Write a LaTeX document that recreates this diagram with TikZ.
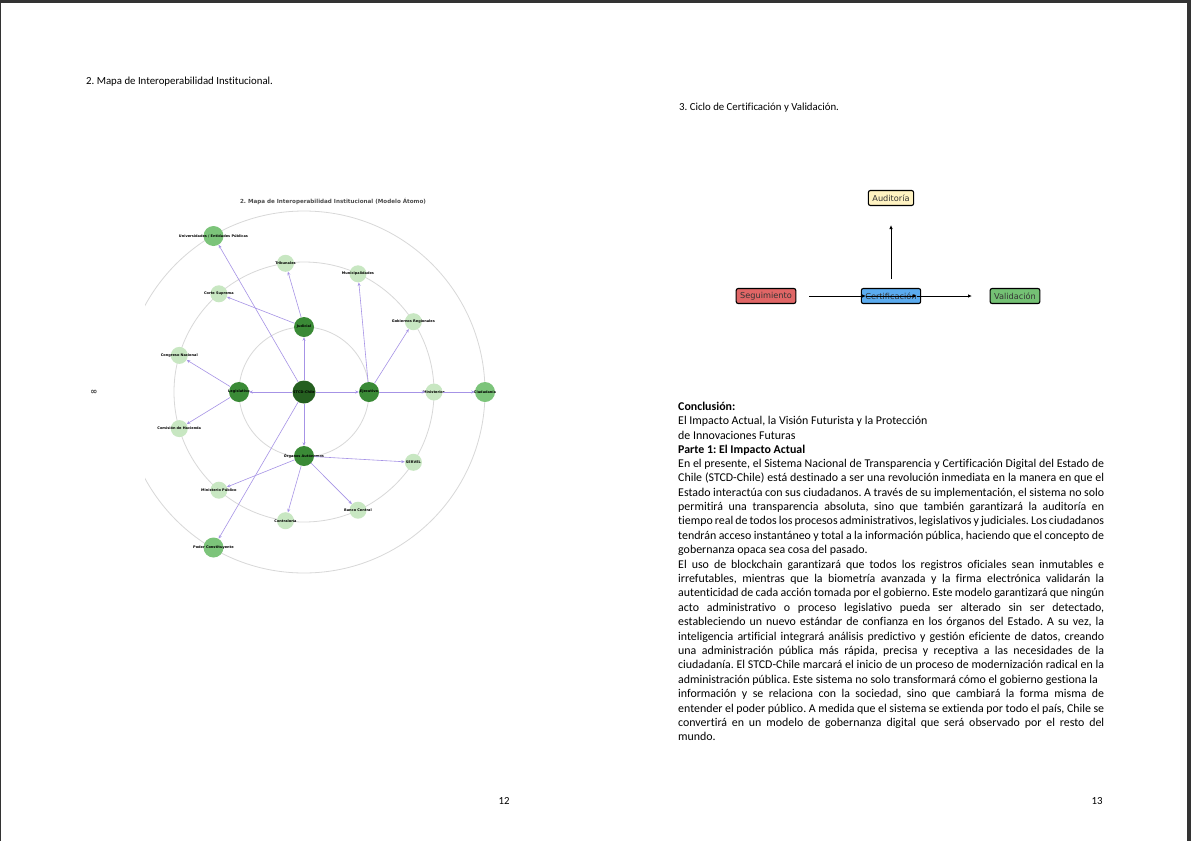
\documentclass[tikz,border=0pt]{standalone}
\usepackage{fontspec}
\setmainfont{Carlito}[Ligatures={CommonOff}]
\newfontfamily\dvs{DejaVu Sans}
\usetikzlibrary{arrows.meta,calc}
\definecolor{framec}{HTML}{333333}
\definecolor{ringc}{HTML}{D8D8D8}
\definecolor{edgec}{HTML}{A693E6}
\definecolor{gdark}{HTML}{255F20}
\definecolor{gmid}{HTML}{3A8A36}
\definecolor{gout}{HTML}{7CC47A}
\definecolor{glight}{HTML}{C8E7C2}
\definecolor{cseg}{HTML}{E06666}
\definecolor{ccert}{HTML}{5AABEF}
\definecolor{cval}{HTML}{74C174}
\definecolor{caud}{HTML}{FFF3C2}
\newcommand{\jline}[1]{\makebox[426pt][s]{#1}}
\frenchspacing
\tikzset{
  hub/.style={circle, inner sep=0pt, minimum size=23pt, fill=gdark},
  lvone/.style={circle, inner sep=0pt, minimum size=20pt, fill=gmid},
  lvtwo/.style={circle, inner sep=0pt, minimum size=17pt, fill=glight},
  lvout/.style={circle, inner sep=0pt, minimum size=20pt, fill=gout},
  lbl/.style={font=\dvs\bfseries\fontsize{3.5}{3.9}\selectfont, text=black, inner sep=0pt},
  link/.style={draw=edgec, line width=0.6pt, -{Stealth[length=3.5pt,width=3pt]}},
  ring/.style={draw=ringc, line width=0.8pt},
  cbox/.style={draw=black, line width=1.1pt, rounded corners=2pt, font=\dvs\fontsize{8.2}{9.5}\selectfont, text=black!80, inner xsep=4pt, inner ysep=0pt, minimum height=15pt},
  flow/.style={draw=black, line width=0.9pt, -{Latex[length=4pt,width=3.5pt]}},
  txt/.style={anchor=base west, inner sep=0pt, font=\fontsize{11.9}{14}\selectfont},
  btxt/.style={txt, font=\bfseries\fontsize{11.9}{14}\selectfont},
  small/.style={anchor=base west, inner sep=0pt, font=\fontsize{10.8}{12}\selectfont},
}
\begin{document}
\begin{tikzpicture}[x=1pt,y=-1pt]
\useasboundingbox (0,0) rectangle (1191,841);
\fill[framec] (0,0) rectangle (1191,841);
\fill[white] (1,3) rectangle (1187,841);

% page titles
\node[small] (t2) at (86,84) {2. Mapa de Interoperabilidad Institucional.};
\node[small] (t3) at (679,110) {3. Ciclo de Certificación y Validación.};
\node[small, anchor=base] (p12) at (504,804.5) {12};
\node[small, anchor=base] (p13) at (1097,804.5) {13};

% atom diagram
\node[font=\dvs\bfseries\fontsize{5.6}{6.5}\selectfont, text=black!70] (atitle) at (333,201) {2. Mapa de Interoperabilidad Institucional (Modelo Átomo)};
\node[font=\dvs\bfseries\fontsize{8.5}{9}\selectfont, text=black!75, inner sep=0pt] (inf) at (94,392) {∞};
\begin{scope}
  \clip (145,150) rectangle (600,650);
  \draw[ring] (304,392) circle[radius=65pt];
  \draw[ring] (304,392) circle[radius=130pt];
  \draw[ring] (304,392) circle[radius=181pt];
\end{scope}

\node[hub, label={[lbl]center:STCD-Chile}] (stcd) at (304,392) {};
\node[lvone, label={[lbl]center:Judicial}] (jud) at (304,327) {};
\node[lvone, label={[lbl]center:Legislativo}] (leg) at (239,392) {};
\node[lvone, label={[lbl]center:Ejecutivo}] (eje) at (369,392) {};
\node[lvone, label={[lbl]center:Órganos Autónomos}] (org) at (304,456) {};
\node[lvtwo, label={[lbl]center:Ministerios}] (min) at (434,392) {};
\node[lvtwo, label={[lbl]center:Gobiernos Regionales}] (gob) at (413.4,321.7) {};
\node[lvtwo, label={[lbl]center:Municipalidades}] (mun) at (358,273.8) {};
\node[lvtwo, label={[lbl]center:Tribunales}] (tri) at (285.5,263.3) {};
\node[lvtwo, label={[lbl]center:Corte Suprema}] (cor) at (218.9,293.8) {};
\node[lvtwo, label={[lbl]center:Congreso Nacional}] (con) at (179.3,355.4) {};
\node[lvtwo, label={[lbl]center:Comisión de Hacienda}] (com) at (179.3,428.6) {};
\node[lvtwo, label={[lbl]center:Ministerio Público}] (mpu) at (218.9,490.2) {};
\node[lvtwo, label={[lbl]center:Contraloría}] (ctr) at (285.5,520.7) {};
\node[lvtwo, label={[lbl]center:Banco Central}] (ban) at (358,510.2) {};
\node[lvtwo, label={[lbl]center:SERVEL}] (ser) at (413.4,462.3) {};
\node[lvout, label={[lbl]center:Ciudadanía}] (ciu) at (485,392) {};
\node[lvout, label={[lbl]center:Universidades / Entidades Públicas}] (uni) at (213.5,236) {};
\node[lvout, label={[lbl]center:Poder Constituyente}] (pod) at (213.5,547.5) {};

\draw[link] (stcd) -- (jud);
\draw[link] (stcd) -- (leg);
\draw[link] (stcd) -- (eje);
\draw[link] (stcd) -- (org);
\draw[link] (stcd) -- (uni);
\draw[link] (stcd) -- (pod);
\draw[link] (jud) -- (tri);
\draw[link] (jud) -- (cor);
\draw[link] (eje) -- (mun);
\draw[link] (eje) -- (gob);
\draw[link] (eje) -- (min);
\draw[link] (min) -- (ciu);
\draw[link] (leg) -- (con);
\draw[link] (leg) -- (com);
\draw[link] (org) -- (ser);
\draw[link] (org) -- (mpu);
\draw[link] (org) -- (ctr);
\draw[link] (org) -- (ban);

% cycle diagram
\node[cbox, fill=caud] (aud) at (891,198) {Auditoría};
\node[cbox, fill=cseg] (seg) at (766,296) {Seguimiento};
\node[cbox, fill=ccert] (cert) at (891,296) {Certificación};
\node[cbox, fill=cval] (val) at (1015,296) {Validación};
\coordinate (v1) at (891,279);
\coordinate (v2) at (891,225);
\coordinate (h1) at (809,296);
\coordinate (h2) at (866,296);
\coordinate (h3) at (917,296);
\coordinate (h4) at (972,296);
\draw[flow] (v1) -- (v2);
\draw[flow] (h1) -- (h2);
\draw[flow] (h2) -- (h3);
\draw[flow] (h3) -- (h4);

% text
\node[btxt] (l01) at (678,410.5) {Conclusión:};
\node[txt] (l02) at (678,424.9) {El Impacto Actual, la Visión Futurista y la Protección};
\node[txt] (l03) at (678,439.2) {de Innovaciones Futuras};
\node[btxt] (l04) at (678,453) {Parte 1: El Impacto Actual};
\node[txt] (b01) at (678,467.2) {\jline{En el presente, el Sistema Nacional de Transparencia y Certificación Digital del Estado de}};
\node[txt] (b02) at (678,481.6) {\jline{Chile (STCD-Chile) está destinado a ser una revolución inmediata en la manera en que el}};
\node[txt] (b03) at (678,496.0) {\jline{Estado interactúa con sus ciudadanos. A través de su implementación, el sistema no solo}};
\node[txt] (b04) at (678,510.4) {\jline{permitirá una transparencia absoluta, sino que también garantizará la auditoría en}};
\node[txt] (b05) at (678,524.8) {\jline{tiempo real de todos los procesos administrativos, legislativos y judiciales. Los ciudadanos}};
\node[txt] (b06) at (678,539.2) {\jline{tendrán acceso instantáneo y total a la información pública, haciendo que el concepto de}};
\node[txt] (b07) at (678,553.6) {gobernanza opaca sea cosa del pasado.};
\node[txt] (b08) at (678,568.0) {\jline{El uso de blockchain garantizará que todos los registros oficiales sean inmutables e}};
\node[txt] (b09) at (678,582.4) {\jline{irrefutables, mientras que la biometría avanzada y la firma electrónica validarán la}};
\node[txt] (b10) at (678,596.8) {\jline{autenticidad de cada acción tomada por el gobierno. Este modelo garantizará que ningún}};
\node[txt] (b11) at (678,611.2) {\jline{acto administrativo o proceso legislativo pueda ser alterado sin ser detectado,}};
\node[txt] (b12) at (678,625.6) {\jline{estableciendo un nuevo estándar de confianza en los órganos del Estado. A su vez, la}};
\node[txt] (b13) at (678,640.0) {\jline{inteligencia artificial integrará análisis predictivo y gestión eficiente de datos, creando}};
\node[txt] (b14) at (678,654.4) {\jline{una administración pública más rápida, precisa y receptiva a las necesidades de la}};
\node[txt] (b15) at (678,668.8) {\jline{ciudadanía. El STCD-Chile marcará el inicio de un proceso de modernización radical en la}};
\node[txt] (b16) at (678,683.2) {administración pública. Este sistema no solo transformará cómo el gobierno gestiona la};
\node[txt] (b17) at (678,697.6) {\jline{información y se relaciona con la sociedad, sino que cambiará la forma misma de}};
\node[txt] (b18) at (678,712.0) {\jline{entender el poder público. A medida que el sistema se extienda por todo el país, Chile se}};
\node[txt] (b19) at (678,726.4) {\jline{convertirá en un modelo de gobernanza digital que será observado por el resto del}};
\node[txt] (b20) at (678,740.8) {mundo.};
\end{tikzpicture}
\end{document}
